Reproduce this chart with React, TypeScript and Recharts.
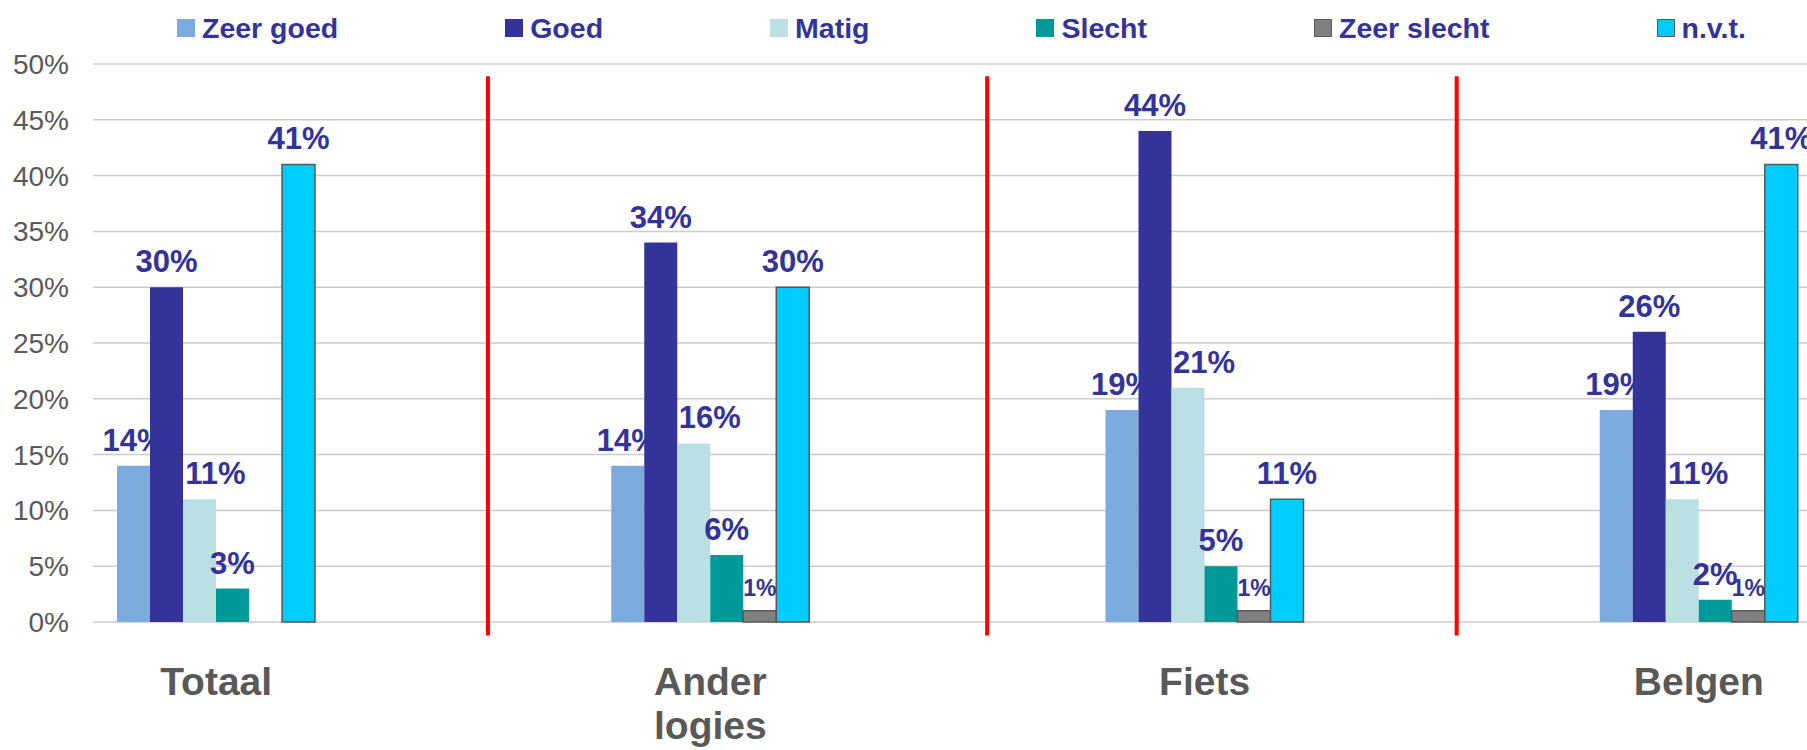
import React from 'react';
import { BarChart, Bar, XAxis, YAxis, CartesianGrid, Legend, LabelList, ReferenceLine } from 'recharts';

const categories = ['Totaal', 'Ander logies', 'Fiets', 'Belgen'];
const zeerGoed = [14, 14, 19, 19];
const goed = [30, 34, 44, 26];
const matig = [11, 16, 21, 11];
const slecht = [3, 6, 5, 2];
const zeerSlecht = [0, 1, 1, 1];
const nvt = [41, 30, 11, 41];
const yTicks = [0, 5, 10, 15, 20, 25, 30, 35, 40, 45, 50];
// red separators, in category units (0 = centre of "Totaal")
const separators = [0.55, 1.56, 2.51];

const FONT = '"Liberation Sans", Arial, sans-serif';

const series = [
  { key: 'zeerGoed', name: 'Zeer goed', values: zeerGoed, color: '#7DABDD', stroke: 'none', labelSize: 31, labelDx: 0 },
  { key: 'goed', name: 'Goed', values: goed, color: '#333399', stroke: 'none', labelSize: 31, labelDx: 0 },
  { key: 'matig', name: 'Matig', values: matig, color: '#BBE0E3', stroke: 'none', labelSize: 31, labelDx: 16 },
  { key: 'slecht', name: 'Slecht', values: slecht, color: '#009999', stroke: 'none', labelSize: 31, labelDx: 0 },
  { key: 'zeerSlecht', name: 'Zeer slecht', values: zeerSlecht, color: '#808080', stroke: '#595959', labelSize: 23, labelDx: 0 },
  { key: 'nvt', name: 'n.v.t.', values: nvt, color: '#00CCFF', stroke: '#595959', labelSize: 31, labelDx: 0 },
];

const data = categories.map((category, i) => {
  const row: Record<string, string | number> = { category, idx: i };
  series.forEach((s) => {
    row[s.key] = s.values[i];
  });
  return row;
});

const CategoryTick = (props: any) => {
  const { x, y, payload } = props;
  const lines = String(payload.value).split(' ');
  return (
    <text x={x} y={y} textAnchor="middle" fill="#595959" fontSize={39} fontWeight="bold" fontFamily={FONT}>
      {lines.map((line, i) => (
        <tspan key={i} x={x} dy={i === 0 ? 73 : 44}>
          {line}
        </tspan>
      ))}
    </text>
  );
};

const renderLegend = () => (
  <div style={{ display: 'flex', gap: 167, paddingLeft: 177, height: 36, alignItems: 'center', fontFamily: FONT }}>
    {series.map((s) => (
      <div key={s.key} style={{ display: 'flex', alignItems: 'center' }}>
        <span
          style={{
            width: 18,
            height: 18,
            boxSizing: 'border-box',
            background: s.color,
            border: s.stroke === 'none' ? 'none' : `1px solid ${s.stroke}`,
            marginRight: 7,
          }}
        />
        <span style={{ fontSize: 28.5, fontWeight: 'bold', color: '#333399', lineHeight: '36px' }}>{s.name}</span>
      </div>
    ))}
  </div>
);

export default function App() {
  return (
    <div style={{ position: 'absolute', left: 0, top: 0, background: '#fff' }}>
      <BarChart
        width={1807}
        height={750}
        data={data}
        margin={{ top: 64, right: 0, bottom: 0, left: 0 }}
        barSize={33}
        barGap={0}
      >
        <CartesianGrid vertical={false} stroke="#cccccc" strokeWidth={1.5} />
        <XAxis
          dataKey="category"
          axisLine={false}
          tickLine={false}
          tickSize={0}
          tickMargin={0}
          height={128}
          interval={0}
          padding={{ left: -124, right: -139 }}
          tick={<CategoryTick />}
        />
        {/* hidden numeric axis on the same range, used only to place the separators */}
        <XAxis
          xAxisId="sep"
          dataKey="idx"
          type="number"
          hide
          domain={[-0.5, 3.5]}
          allowDataOverflow
          padding={{ left: -124, right: -139 }}
        />
        <YAxis
          domain={[0, 50]}
          ticks={yTicks}
          width={93}
          axisLine={false}
          tickLine={false}
          tickSize={0}
          tickMargin={24}
          tickFormatter={(v) => `${v}%`}
          tick={{ fill: '#595959', fontSize: 28, fontFamily: FONT }}
        />
        <Legend
          layout="horizontal"
          verticalAlign="middle"
          align="center"
          wrapperStyle={{ top: 10, left: 0, width: 1807 }}
          content={renderLegend}
        />
        {series.map((s) => (
          <Bar
            key={s.key}
            dataKey={s.key}
            name={s.name}
            fill={s.color}
            stroke={s.stroke}
            strokeWidth={s.stroke === 'none' ? 0 : 1.5}
            isAnimationActive={false}
          >
            <LabelList
              dataKey={s.key}
              position="top"
              offset={15}
              dx={s.labelDx}
              fill="#333399"
              fontSize={s.labelSize}
              fontWeight="bold"
              fontFamily={FONT}
              formatter={(v: any) => (v ? `${v}%` : '')}
            />
          </Bar>
        ))}
        {separators.map((x, i) => (
          <ReferenceLine
            key={i}
            xAxisId="sep"
            segment={[
              { x, y: 48.9 },
              { x, y: -1.2 },
            ]}
            stroke="#FF0000"
            strokeWidth={4}
            ifOverflow="visible"
          />
        ))}
      </BarChart>
    </div>
  );
}
